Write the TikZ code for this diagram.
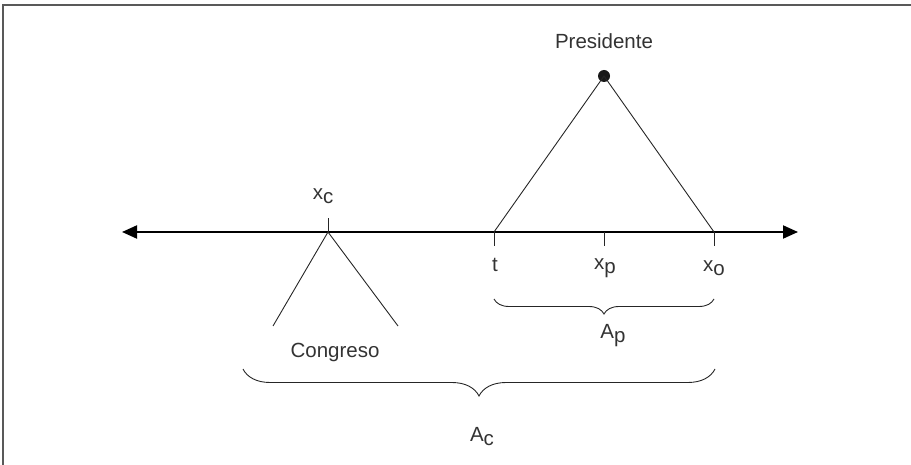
\documentclass[tikz,border=0pt]{standalone}
\usepackage{fontspec}
\setmainfont{Liberation Sans}
\usetikzlibrary{arrows.meta,decorations.pathreplacing}
\begin{document}
\begin{tikzpicture}[x=1pt,y=-1pt,
  lbl/.style={font=\fontsize{20.5}{23}\selectfont, text=black!80, inner sep=0pt},
  thin line/.style={line width=0.9pt, black!85},
  tickmark/.style={line width=1pt, black!85},
  axisline/.style={line width=2pt, {Triangle[length=15pt,width=13pt]}-{Triangle[length=15pt,width=13pt]}},
  bracestyle/.style={line width=0.9pt, black!85, decorate}]
\useasboundingbox (0,0) rectangle (911,465);
% frame
\draw[black!65, line width=1.5pt] (3,465) -- (3,5) -- (911,5);
% axis
\coordinate (L) at (122,232);
\coordinate (R) at (798,232);
\draw[axisline] (L) -- (R);
% points
\coordinate (xc) at (328,232);
\coordinate (t) at (494,232);
\coordinate (xp) at (604,232);
\coordinate (xo) at (714,232);
\coordinate (xct) at (328,218);
\coordinate (tb) at (494,246);
\coordinate (xpb) at (604,246);
\coordinate (xob) at (714,246);
\draw[tickmark] (xc) -- (xct);
\draw[tickmark] (t) -- (tb);
\draw[tickmark] (xp) -- (xpb);
\draw[tickmark] (xo) -- (xob);
% labels
\node[lbl] (lxc) at (323,196) {x\raisebox{-4pt}{c}};
\node[lbl] (lt) at (495,265) {t};
\node[lbl] (lxp) at (605,268) {x\raisebox{-4pt}{p}};
\node[lbl] (lxo) at (714,268) {x\raisebox{-4pt}{o}};
% Congreso
\coordinate (cl) at (273,326);
\coordinate (cr) at (398,326);
\draw[thin line] (cl) -- (xc) -- (cr);
\node[lbl] (congreso) at (335,352) {Congreso};
% Presidente
\node[circle, fill=black!90, inner sep=0pt, minimum size=12pt] (pd) at (604,76) {};
\draw[thin line] (t) -- (pd.center) -- (xo);
\node[lbl] (pres) at (604,41) {Presidente};
% braces
\draw[bracestyle, decoration={brace, mirror, amplitude=15pt}] (494,299) -- (714,299);
\node[lbl] (ap) at (613,336) {A\raisebox{-4pt}{p}};
\draw[bracestyle, decoration={brace, mirror, amplitude=27pt}] (243,369) -- (715,369);
\node[lbl] (ac) at (482,437) {A\raisebox{-4pt}{c}};
\end{tikzpicture}
\end{document}
